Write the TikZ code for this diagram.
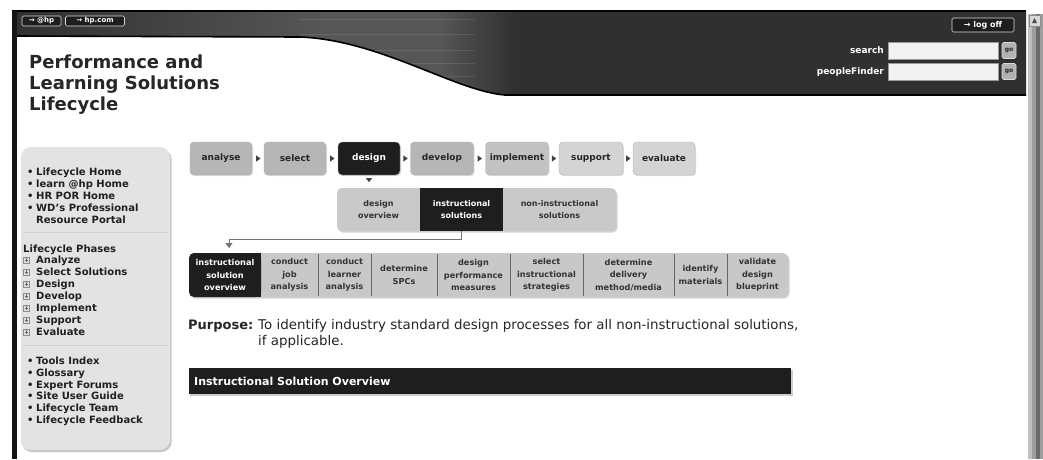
\documentclass[tikz,border=0pt]{standalone}
\usepackage{fontspec}
\setmainfont{DejaVu Sans}
\usetikzlibrary{arrows.meta,calc,shadows}
\definecolor{hdr}{HTML}{303030}
\definecolor{hdrlight}{HTML}{565656}
\definecolor{btndark}{HTML}{1E1E1E}
\definecolor{btnmid}{HTML}{B6B6B6}
\definecolor{btnmid2}{HTML}{C2C2C2}
\definecolor{btnlight}{HTML}{D4D4D4}
\definecolor{subfill}{HTML}{C9C9C9}
\definecolor{stepfill}{HTML}{C8C8C8}
\definecolor{panelfill}{HTML}{E3E3E3}
\definecolor{sidetext}{HTML}{202020}
\newcommand\myfs[2]{\fontsize{#1}{#2}\selectfont}
\begin{document}
\begin{tikzpicture}[x=1pt,y=-1pt,
  side/.style={anchor=base west, inner sep=0, text=sidetext, font=\myfs{10}{12}\bfseries},
  phase/.style={rounded corners=4, minimum height=33, inner sep=0, font=\myfs{9}{10}\bfseries, text=black!85, draw=black!30, line width=0.4, drop shadow={opacity=0.25, shadow xshift=1pt, shadow yshift=-1.2pt}},
  boxtxt/.style={inner sep=0, align=center, text=black!80},
  subtxt/.style={boxtxt, minimum height=43, font=\myfs{8}{12}\bfseries},
  steptxt/.style={boxtxt, minimum height=44, font=\myfs{8.2}{12.5}\bfseries},
  sepline/.style={draw=black!60, line width=0.9},
  conn/.style={draw=black!55, line width=0.9},
  topbtn/.style={draw=black!15, fill=btndark, rounded corners=1.5, line width=0.6, inner sep=0, text=white, font=\myfs{7}{8}\bfseries},
  gobtn/.style={draw=black!15, fill=black!30, rounded corners=1.5, line width=0.6, inner sep=0, text=black!85, font=\myfs{6}{7}\bfseries, minimum width=14, minimum height=16},
  inbox/.style={draw=black!40, fill=black!5, line width=0.6, inner sep=0, minimum width=110, minimum height=17},
  hlabel/.style={anchor=base east, inner sep=0, text=white, font=\myfs{9}{10}\bfseries}
]
\useasboundingbox (0,0) rectangle (1043,459);
\fill[white] (0,0) rectangle (1043,459);

% header band
\def\hdrpath{(14,11) -- (1026,11) -- (1026,95) -- (505,95) .. controls (455,91) and (380,40) .. (300,37) -- (14,36) -- cycle}
\fill[hdr] \hdrpath;
\begin{scope}
  \clip \hdrpath;
  \shade[left color=hdr, right color=hdrlight] (14,11) rectangle (320,95);
  \fill[hdrlight] (320,11) rectangle (440,95);
  \shade[left color=hdrlight, right color=hdr] (440,11) rectangle (515,95);
  \foreach \yy in {19,34,50,63,76}
    \draw[white, opacity=0.1, line width=1] (300,\yy) -- (475,\yy);
\end{scope}
\draw[black, line width=1.6] (1026,95) -- (505,95) .. controls (455,91) and (380,40) .. (300,37) -- (14,36);
\draw[black, line width=1.2] (12,11) -- (1026,11);

% left bar
\fill[black!92] (12,11) rectangle (17,459);

% scrollbar
\fill[black!38] (1028,14) rectangle (1043,459);
\fill[black!25] (1028,14) rectangle (1032,459);
\fill[black!58] (1036,14) rectangle (1040,459);
\draw[black!45, fill=black!15] (1029,15) rectangle (1040,26);
\fill[black!70] (1032,23) -- (1037,23) -- (1034.5,18) -- cycle;

% top-left buttons
\node[topbtn, minimum width=39, minimum height=10] (athp) at (41.5,21) {→ @hp};
\node[topbtn, minimum width=59, minimum height=10] (hpcom) at (95,21) {→ hp.com};

% right header controls
\node[topbtn, minimum width=62, minimum height=14, font=\myfs{8}{9}\bfseries] (logoff) at (983,25) {→ log off};
\node[inbox] (searchbox) at (943,50.5) {};
\node[inbox] (pfbox) at (943,71.5) {};
\node[hlabel] (searchlbl) at (884,53.5) {search};
\node[hlabel] (pflbl) at (884,74.5) {peopleFinder};
\node[gobtn] (go1) at (1009,50.5) {go};
\node[gobtn] (go2) at (1009,71.5) {go};

% title
\node[anchor=base west, inner sep=0, font=\myfs{18}{21}\bfseries, text=black!85] (t1) at (29,68) {Performance and};
\node[anchor=base west, inner sep=0, font=\myfs{18}{21}\bfseries, text=black!85] (t2) at (29,89) {Learning Solutions};
\node[anchor=base west, inner sep=0, font=\myfs{18}{21}\bfseries, text=black!85] (t3) at (29,110) {Lifecycle};

% sidebar panel
\fill[black!22, rounded corners=10] (22,149) rectangle (171.5,452);
\fill[panelfill, rounded corners=10] (21,147) rectangle (170,450);
\draw[black!18, line width=0.8] (23,232) -- (168,232);
\draw[black!18, line width=0.8] (23,345) -- (168,345);

\foreach \t [count=\i] in {Lifecycle Home, learn @hp Home, HR POR Home, WD's Professional}
  \node[side] (nav\i) at (27,163.5+12*\i) {\makebox[9pt][l]{•}\t};
\node[side] (nav5) at (36,223.5) {Resource Portal};

\node[side] (phhdr) at (23,252.5) {Lifecycle Phases};
\foreach \t [count=\i] in {Analyze, Select Solutions, Design, Develop, Implement, Support, Evaluate} {
  \draw[draw=black!45, fill=black!12, line width=0.4] (23.5,245+12*\i) rectangle (29.5,251+12*\i);
  \draw[black!60, line width=0.5] (24.8,248+12*\i) -- (28.2,248+12*\i);
  \draw[black!60, line width=0.5] (26.5,246.3+12*\i) -- (26.5,249.7+12*\i);
  \node[side] (ph\i) at (36,251.5+12*\i) {\t};
}

\foreach \t [count=\i] in {Tools Index, Glossary, Expert Forums, Site User Guide, Lifecycle Team, Lifecycle Feedback}
  \node[side] (tool\i) at (27,352.7+11.8*\i) {\makebox[9pt][l]{•}\t};

% phase row
\node[phase, fill=btnmid, minimum width=62] (analyse) at (221,158.5) {analyse};
\node[phase, fill=btnmid, minimum width=62] (select) at (295,158.5) {select};
\node[phase, fill=btndark, text=white, minimum width=62] (design) at (369,158.5) {design};
\node[phase, fill=btnmid, minimum width=63] (develop) at (442,158.5) {develop};
\node[phase, fill=btnmid2, minimum width=63] (implement) at (517,158.5) {implement};
\node[phase, fill=btnlight, minimum width=64] (support) at (591,158.5) {support};
\node[phase, fill=btnlight, minimum width=62] (evaluate) at (664,158.5) {evaluate};
\foreach \a/\b in {analyse/select, select/design, design/develop, develop/implement, implement/support, support/evaluate}
  \fill[black!75] ($(\a.east)!0.5!(\b.west)$) +(-2,-3.2) -- +(2.5,0) -- +(-2,3.2) -- cycle;
\fill[black!75] ($(design.south)+(0,3)$) +(-3,0) -- +(3,0) -- +(0,4) -- cycle;

% sub row
\fill[black!18, rounded corners=5] (338,189.5) rectangle (617.5,232.5);
\fill[subfill, rounded corners=5] (337,188) rectangle (616,231);
\fill[btndark] (420,188) rectangle (503,231);
\node[subtxt, minimum width=83] (sdo) at (378.5,209.5) {design\\overview};
\node[subtxt, minimum width=83, text=white] (sis) at (461.5,209.5) {instructional\\solutions};
\node[subtxt, minimum width=113] (snon) at (559.5,209.5) {non-instructional\\solutions};

% steps row
\fill[black!18, rounded corners=5] (190,254.5) rectangle (789.5,298.5);
\fill[stepfill, rounded corners=5] (189,253) rectangle (788,297);
\fill[btndark, rounded corners=5] (189,253) rectangle (261,297);
\fill[btndark] (250,253) rectangle (261,297);
\node[steptxt, minimum width=72, text=white] (s1) at (225,275) {instructional\\solution\\overview};
\node[steptxt, minimum width=57] (s2) at (289.5,275) {conduct\\job\\analysis};
\node[steptxt, minimum width=53] (s3) at (344.5,275) {conduct\\learner\\analysis};
\node[steptxt, minimum width=66] (s4) at (404,275) {determine\\SPCs};
\node[steptxt, minimum width=73] (s5) at (473.5,275) {design\\performance\\measures};
\node[steptxt, minimum width=73] (s6) at (546.5,275) {select\\instructional\\strategies};
\node[steptxt, minimum width=91] (s7) at (628.5,275) {determine\\delivery\\method/media};
\node[steptxt, minimum width=53] (s8) at (700.5,275) {identify\\materials};
\node[steptxt, minimum width=61] (s9) at (757.5,275) {validate\\design\\blueprint};
\foreach \n in {s2,s3,s4,s5,s6,s7,s8}
  \draw[sepline, shorten >=1, shorten <=1] (\n.north east) -- (\n.south east);

% connector
\coordinate (elbow) at (229,239);
\coordinate (tip) at (229,248);
\draw[conn] (sis.south) |- (elbow);
\draw[conn, -{Triangle[width=7pt,length=5pt]}] (elbow) -- (tip);

% purpose
\node[anchor=base west, inner sep=0, font=\myfs{13}{16}\bfseries, text=black!85] (purp) at (188,329) {Purpose:};
\node[anchor=base west, inner sep=0, font=\myfs{13.4}{16}, text=black!85] (ptxt1) at (258,329) {To identify industry standard design processes for all non-instructional solutions,};
\node[anchor=base west, inner sep=0, font=\myfs{13.4}{16}, text=black!85] (ptxt2) at (258,345) {if applicable.};

% section bar
\fill[black!20] (190,370) rectangle (793,396);
\fill[btndark] (189,368) rectangle (791,394);
\node[anchor=base west, inner sep=0, font=\myfs{11}{13}\bfseries, text=white] (secttl) at (194,385.5) {Instructional Solution Overview};
\end{tikzpicture}
\end{document}
